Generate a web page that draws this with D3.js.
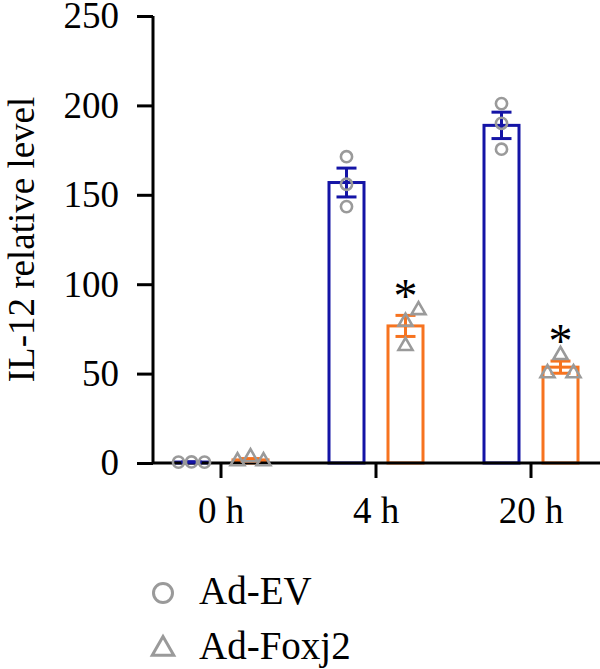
<!DOCTYPE html>
<html>
<head>
<meta charset="utf-8">
<script src="https://cdn.jsdelivr.net/npm/d3@7"></script>
<style>
  body { margin: 0; background: #fff; }
  svg text { font-family: "Liberation Serif", "DejaVu Serif", serif; fill: #000; }
</style>
</head>
<body>
<div id="chart"></div>
<script>
// values
const categories = ['0 h', '4 h', '20 h'];
const seriesNames = ['Ad-EV', 'Ad-Foxj2'];
const evPoints = [[0.6, 0.5, 0.5], [171.3, 155.9, 143.4], [201, 190, 175.5]];
const foxPoints = [[3.2, 1.0, 1.0], [79, 65.5, 85.5], [60.4, 50.2, 50.2]];
const significant = [[false, false], [false, true], [false, true]];
const yTicks = [0, 50, 100, 150, 200, 250];

const width = 600;
const height = 669;
const colors = { 'Ad-EV': '#1414a6', 'Ad-Foxj2': '#f7731f' };
const markerGray = '#9a9a9a';

const svg = d3.select('#chart').append('svg')
  .attr('width', width)
  .attr('height', height);

const y = d3.scaleLinear().domain([0, 250]).range([463, 16]);
const x = d3.scaleBand().domain(categories).range([143.5, 608.5]);
const xSub = d3.scalePoint().domain(seriesNames).range([-29.5, 29.5]);
const barWidth = 35;

// build groups with mean + sem
const groups = [];
categories.forEach((cat, i) => {
  [evPoints[i], foxPoints[i]].forEach((pts, j) => {
    const mean = d3.mean(pts);
    const sem = d3.deviation(pts) / Math.sqrt(pts.length);
    groups.push({ cat, series: seriesNames[j], pts, mean, sem, star: significant[i][j] });
  });
});

const cx = (g) => x(g.cat) + x.bandwidth() / 2 + xSub(g.series);

// bars
svg.selectAll('rect.bar').data(groups).enter()
  .append('rect')
  .attr('class', 'bar')
  .attr('x', (g) => cx(g) - barWidth / 2)
  .attr('y', (g) => y(g.mean))
  .attr('width', barWidth)
  .attr('height', (g) => y(0) - y(g.mean))
  .attr('fill', '#fff')
  .attr('stroke', (g) => colors[g.series])
  .attr('stroke-width', 3);

// y axis
const yAxis = svg.append('g')
  .attr('transform', 'translate(153,0)')
  .call(d3.axisLeft(y).tickValues(yTicks).tickSize(16).tickPadding(18));
yAxis.select('.domain').attr('stroke-width', 3).attr('d', `M0,${y(250)}V${y(0)}`);
yAxis.selectAll('.tick line').attr('stroke-width', 3);
yAxis.selectAll('text').style('font-size', '37px');

// x axis
const xAxis = svg.append('g')
  .attr('transform', `translate(0,${y(0)})`)
  .call(d3.axisBottom(x).tickSize(15).tickPadding(19));
xAxis.select('.domain').attr('stroke-width', 3).attr('d', `M153,0H${width}`);
xAxis.selectAll('.tick line').attr('stroke-width', 3);
xAxis.selectAll('text').style('font-size', '37px');

// y title
svg.append('text')
  .attr('transform', `translate(34,${(y(0) + y(250)) / 2}) rotate(-90)`)
  .attr('text-anchor', 'middle')
  .style('font-size', '37px')
  .text('IL-12 relative level');

// error bars
const capHalf = 10;
const err = svg.selectAll('g.err').data(groups).enter().append('g')
  .attr('class', 'err')
  .attr('stroke', (g) => colors[g.series])
  .attr('stroke-width', 3);
err.append('line')
  .attr('x1', cx).attr('x2', cx)
  .attr('y1', (g) => y(g.mean + g.sem))
  .attr('y2', (g) => y(g.mean - g.sem));
err.append('line')
  .attr('x1', (g) => cx(g) - capHalf).attr('x2', (g) => cx(g) + capHalf)
  .attr('y1', (g) => y(g.mean + g.sem)).attr('y2', (g) => y(g.mean + g.sem));
err.append('line')
  .attr('x1', (g) => cx(g) - capHalf).attr('x2', (g) => cx(g) + capHalf)
  .attr('y1', (g) => y(g.mean - g.sem)).attr('y2', (g) => y(g.mean - g.sem));

// scatter dodge, like the prism layout: try centre, right, left
function dodge(pts, center) {
  const step = 13;
  const minDy = 18.5;
  const placed = [];
  pts.forEach((v) => {
    const py = y(v);
    const offsets = [0, step, -step, 2 * step, -2 * step];
    for (const o of offsets) {
      const hit = placed.some((p) => Math.abs(p.x - (center + o)) < step && Math.abs(p.y - py) < minDy);
      if (!hit) { placed.push({ x: center + o, y: py }); break; }
    }
  });
  return placed;
}

const triangle = d3.symbol().type(d3.symbolTriangle).size(85);

groups.forEach((g) => {
  const pos = dodge(g.pts, cx(g));
  if (g.series === 'Ad-EV') {
    svg.selectAll(null).data(pos).enter().append('circle')
      .attr('cx', (p) => p.x).attr('cy', (p) => p.y).attr('r', 5.6)
      .attr('fill', 'none').attr('stroke', markerGray).attr('stroke-width', 2.6);
  } else {
    svg.selectAll(null).data(pos).enter().append('path')
      .attr('d', triangle)
      .attr('transform', (p) => `translate(${p.x},${p.y})`)
      .attr('fill', 'none').attr('stroke', markerGray).attr('stroke-width', 2.6);
  }
  if (g.star) {
    svg.append('text')
      .attr('x', cx(g))
      .attr('y', y(d3.max(g.pts)) + 2)
      .attr('text-anchor', 'middle')
      .style('font-size', '48px')
      .text('*');
  }
});

// legend
const legend = svg.append('g');
legend.append('circle')
  .attr('cx', 163).attr('cy', 593).attr('r', 9.5)
  .attr('fill', 'none').attr('stroke', markerGray).attr('stroke-width', 3);
legend.append('path')
  .attr('d', d3.symbol().type(d3.symbolTriangle).size(200))
  .attr('transform', 'translate(163,649)')
  .attr('fill', 'none').attr('stroke', markerGray).attr('stroke-width', 3);
legend.selectAll('text').data(seriesNames).enter().append('text')
  .attr('x', 199)
  .attr('y', (d, i) => 604 + i * 55)
  .style('font-size', '39px')
  .text((d) => d);
</script>
</body>
</html>
